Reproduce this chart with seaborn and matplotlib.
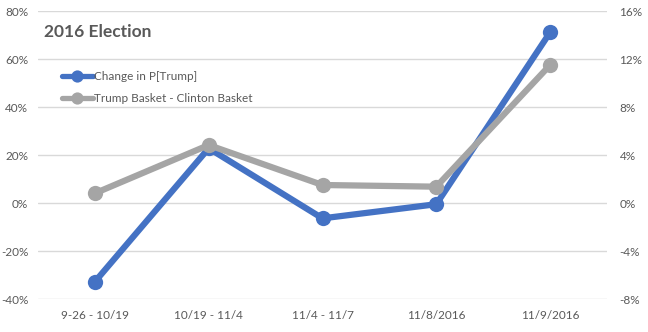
import matplotlib
matplotlib.use("Agg")
import matplotlib.pyplot as plt
import seaborn as sns
import pandas as pd
from matplotlib.ticker import FuncFormatter

categories = ["9-26 - 10/19", "10/19 - 11/4", "11/4 - 11/7", "11/8/2016", "11/9/2016"]
change_p_trump = [-32.8, 22.8, -6.4, -0.5, 71.1]
basket_diff = [0.81, 4.83, 1.5, 1.36, 11.5]
left_ticks = [-40, -20, 0, 20, 40, 60, 80]
right_ticks = [-8, -4, 0, 4, 8, 12, 16]

sns.set_style("white")
plt.rcParams['font.family'] = ['Lato', 'DejaVu Sans']

df = pd.DataFrame({"x": range(len(categories)),
                   "blue": change_p_trump,
                   "gray": basket_diff})

fig = plt.figure(figsize=(6.48, 3.32), dpi=100)
ax = fig.add_axes([38/648, 1-299/332, (607-38)/648, (299-11)/332])
ax2 = ax.twinx()

blue = "#4472C4"
gray = "#A5A5A5"
tcol = "#595959"

sns.lineplot(data=df, x="x", y="blue", ax=ax, color=blue, lw=4.5,
             marker="o", markersize=11, markeredgewidth=0,
             label="Change in P[Trump]", legend=False)
sns.lineplot(data=df, x="x", y="gray", ax=ax2, color=gray, lw=4.5,
             marker="o", markersize=11, markeredgewidth=0,
             label="Trump Basket - Clinton Basket", legend=False)

ax.set_xlim(-0.5, len(categories) - 0.5)
ax.set_ylim(-40, 80)
ax2.set_ylim(-8, 16)
ax.set_yticks(left_ticks)
ax2.set_yticks(right_ticks)
ax.yaxis.set_major_formatter(FuncFormatter(lambda v, p: f"{v:.0f}%"))
ax2.yaxis.set_major_formatter(FuncFormatter(lambda v, p: f"{v:.0f}%"))
ax.set_xticks(range(len(categories)))
ax.set_xticklabels(categories)
ax.set_xlabel("")
ax.set_ylabel("")
ax2.set_ylabel("")

ax.grid(axis="y", color="#D9D9D9", lw=1)
ax.set_axisbelow(True)
for a in (ax, ax2):
    for s in a.spines.values():
        s.set_visible(False)
    a.tick_params(axis="both", length=0, labelsize=8.5, labelcolor=tcol)
ax.tick_params(axis="y", pad=7)
ax2.tick_params(axis="y", pad=9)
ax.tick_params(axis="x", pad=8)

ax.text(44/648, 1-32/332, "2016 Election", transform=fig.transFigure,
        fontsize=12.5, fontweight="bold", color=tcol, va="center", ha="left")

h1, l1 = ax.get_legend_handles_labels()
h2, l2 = ax2.get_legend_handles_labels()
leg = ax2.legend(h1 + h2, l1 + l2, loc="upper left",
                 bbox_to_anchor=(62/648, 1-71/332), bbox_transform=fig.transFigure,
                 frameon=False, fontsize=8.5, handlelength=2.6, handletextpad=0.15,
                 labelspacing=0.95, borderaxespad=0, borderpad=0, markerscale=0.8)
for t in leg.get_texts():
    t.set_color(tcol)
for ln in leg.get_lines():
    ln.set_linewidth(3.8)

fig.savefig("out.png", dpi=100)
